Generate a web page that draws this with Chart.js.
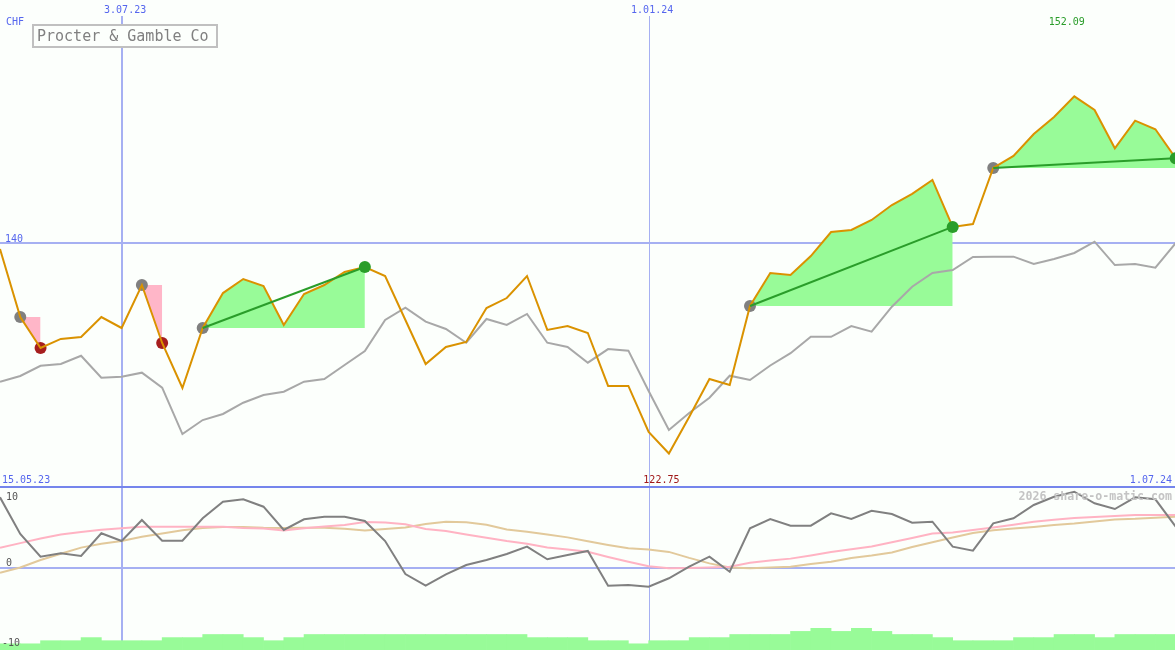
<!DOCTYPE html>
<html>
<head>
<meta charset="utf-8">
<script src="https://cdn.jsdelivr.net/npm/chart.js@4.4.1/dist/chart.umd.min.js"></script>
<style>
  html, body { margin: 0; padding: 0; background: #fcfffc; }
  canvas { display: block; }
</style>
</head>
<body>
<canvas id="chart" width="1175" height="650"></canvas>
<script>
// weekly closes, 59 weeks; index 6 = 3.07.23, index 32 = 1.01.24, index 58 = 1.07.24
const title = "Procter & Gamble Co";
const currency = "CHF";
const startLabel = "15.05.23";
const endLabel = "1.07.24";
const tickIndex = [6, 32];
const tickLabels = ["3.07.23", "1.01.24"];
const priceLevel = 140;
const oscLevels = [10, 0, -10];

const price = [
  139.55, 133.96, 131.42, 132.16, 132.32, 133.96, 133.06, 136.59, 131.83, 128.13,
  133.06, 135.93, 137.08, 136.51, 133.31, 135.85, 136.59, 137.66, 138.07, 137.33,
  133.72, 130.10, 131.50, 131.91, 134.70, 135.52, 137.33, 132.90, 133.22, 132.65,
  128.30, 128.30, 124.52, 122.75, 125.75, 128.87, 128.38, 134.87, 137.58, 137.41,
  138.97, 140.94, 141.11, 141.93, 143.16, 144.07, 145.22, 141.36, 141.60, 146.20,
  147.19, 148.99, 150.39, 152.09, 150.97, 147.82, 150.09, 149.38, 147.00,
];
const average = [
  128.65, 129.12, 129.96, 130.10, 130.78, 128.98, 129.06, 129.39, 128.16, 124.35,
  125.50, 126.00, 126.92, 127.56, 127.83, 128.65, 128.87, 130.02, 131.17, 133.72,
  134.73, 133.58, 132.98, 131.85, 133.80, 133.31, 134.21, 131.85, 131.50, 130.21,
  131.33, 131.20, 127.89, 124.68, 126.08, 127.33, 129.14, 128.79, 129.98, 130.99,
  132.34, 132.34, 133.22, 132.76, 134.81, 136.45, 137.58, 137.82, 138.89, 138.92,
  138.92, 138.32, 138.73, 139.22, 140.15, 138.23, 138.32, 138.01, 140.04,
];
const momentum = [
  10.71, 5.15, 1.71, 2.23, 1.82, 5.26, 4.09, 7.27, 4.14, 4.14,
  7.53, 10.05, 10.41, 9.29, 5.76, 7.38, 7.77, 7.77, 7.12, 4.09,
  -0.91, -2.68, -0.95, 0.45, 1.21, 2.12, 3.23, 1.32, 1.97, 2.58,
  -2.68, -2.58, -2.83, -1.56, 0.20, 1.71, -0.56, 6.02, 7.42, 6.41,
  6.41, 8.29, 7.42, 8.68, 8.18, 6.86, 7.02, 3.23, 2.62, 6.77,
  7.53, 9.55, 10.80, 11.56, 9.80, 8.94, 10.71, 10.41, 6.26,
];
const momentumFast = [
  3.08, 3.77, 4.47, 5.08, 5.47, 5.79, 6.02, 6.26, 6.26, 6.26,
  6.26, 6.26, 6.06, 5.98, 5.68, 6.03, 6.29, 6.52, 6.97, 6.89,
  6.62, 5.91, 5.61, 5.08, 4.58, 4.09, 3.68, 3.12, 2.80, 2.45,
  1.67, 0.95, 0.27, -0.05, 0.00, 0.09, 0.20, 0.80, 1.14, 1.42,
  1.91, 2.42, 2.83, 3.27, 3.89, 4.55, 5.24, 5.38, 5.76, 6.14,
  6.56, 7.02, 7.32, 7.58, 7.73, 7.88, 8.03, 8.03, 8.03,
];
const momentumSlow = [
  -0.71, 0.08, 1.21, 2.15, 3.09, 3.67, 4.09, 4.73, 5.23, 5.73,
  6.06, 6.21, 6.23, 6.08, 6.05, 6.11, 6.11, 5.94, 5.67, 5.91,
  6.15, 6.67, 7.00, 6.94, 6.56, 5.83, 5.50, 5.09, 4.64, 4.06,
  3.50, 3.00, 2.82, 2.44, 1.53, 0.70, 0.08, -0.05, 0.08, 0.18,
  0.59, 0.95, 1.53, 1.89, 2.36, 3.17, 3.89, 4.61, 5.29, 5.73,
  5.97, 6.23, 6.52, 6.73, 7.03, 7.35, 7.45, 7.62, 7.77,
];
// one bar per week, spanning week k to k+1
const volume = [
  2, 2, 3, 3, 4, 3, 3, 3, 4, 4,
  5, 5, 4, 3, 4, 5, 5, 5, 5, 5,
  5, 5, 5, 5, 5, 5, 4, 4, 4, 3,
  3, 2, 3, 3, 4, 4, 5, 5, 5, 6,
  7, 6, 7, 6, 5, 5, 4, 3, 3, 3,
  4, 4, 5, 5, 4, 5, 5, 5,
];
const signalFrom = [1, 7, 10, 37, 49];
const signalTo = [2, 8, 18, 47, 58];

const C = {
  bg: "#fcfffc",
  price: "#da9200",
  average: "#a8a8a8",
  momentum: "#808080",
  fast: "#ffb3c3",
  slow: "#e2c99b",
  gainFill: "#98fb98",
  lossFill: "#ffb6c8",
  trend: "#2a9d2a",
  startMark: "#808080",
  lossMark: "#a61e1e",
  gainMark: "#2a9d2a",
  grid: "#a6b0f2",
  sep: "#7585ec",
  label: "#5566ee",
  oscLabel: "#555555",
  box: "#c0c0c0",
  boxText: "#808080",
  mark: "#c4c4c4",
};

const W = 1175, H = 650;
const SEP = 487;             // bottom of price panel
const pxPerPrice = SEP / 40; // price panel shows 120..160
const zeroPx = 568, pxPerOsc = 6.6, pxPerVol = 3.1;

const pts = (arr, off = 0) => arr.map((v, i) => ({ x: i + off, y: v }));
const part = (from, to) => price.slice(from, to + 1).map((v, k) => ({ x: from + k, y: v }));

const datasets = [];

datasets.push({
  type: "bar", label: "Volume", data: pts(volume, 0.5), yAxisID: "yv",
  backgroundColor: C.gainFill, borderWidth: 0, barPercentage: 1, categoryPercentage: 1,
  grouped: false, order: 30,
});

signalFrom.forEach((from, n) => {
  const to = signalTo[n];
  const gain = price[to] >= price[from];
  datasets.push({
    type: "line", data: part(from, to), yAxisID: "y",
    fill: { value: price[from] }, backgroundColor: gain ? C.gainFill : C.lossFill,
    borderWidth: 0, pointRadius: 0, tension: 0, order: 20,
  });
  if (gain) {
    datasets.push({
      type: "line", data: [{ x: from, y: price[from] }, { x: to, y: price[to] }], yAxisID: "y",
      borderColor: C.trend, borderWidth: 2, pointRadius: 0, fill: false, order: 3,
    });
  }
});

const line = (data, axis, color, order) => ({
  type: "line", data, yAxisID: axis, borderColor: color, borderWidth: 2,
  pointRadius: 0, tension: 0, fill: false, order,
});

datasets.push(line(pts(momentumSlow), "yo", C.slow, 12));
datasets.push(line(pts(momentumFast), "yo", C.fast, 11));
datasets.push(line(pts(momentum), "yo", C.momentum, 10));
datasets.push(line(pts(average), "y", C.average, 8));

const marks = (idx, color, order) => ({
  type: "line", showLine: false, yAxisID: "y", order,
  data: idx.map((i) => ({ x: i, y: price[i] })),
  pointRadius: 6, pointBackgroundColor: color, pointBorderWidth: 0,
});
const lossEnds = signalTo.filter((t, n) => price[t] < price[signalFrom[n]]);
const gainEnds = signalTo.filter((t, n) => price[t] >= price[signalFrom[n]]);
datasets.push(marks(signalFrom, C.startMark, 6));
datasets.push(marks(lossEnds, C.lossMark, 6));
datasets.push(line(pts(price), "y", C.price, 4));
datasets.push(marks(gainEnds, C.gainMark, 1));

const font = (px, bold) => `${bold ? "bold " : ""}${px}px "DejaVu Sans Mono", monospace`;

const frame = {
  id: "frame",
  beforeDraw(chart) {
    const ctx = chart.ctx;
    ctx.save();
    ctx.fillStyle = C.bg;
    ctx.fillRect(0, 0, W, H);
    ctx.restore();
  },
  beforeDatasetsDraw(chart) {
    const { ctx, scales: { x, y, yo } } = chart;
    ctx.save();
    const hline = (py, color, w) => {
      ctx.strokeStyle = color; ctx.lineWidth = w;
      ctx.beginPath(); ctx.moveTo(0, py); ctx.lineTo(W, py); ctx.stroke();
    };
    tickIndex.forEach((i, k) => {
      const w = k === 0 ? 2 : 1;
      const px = Math.round(x.getPixelForValue(i)) + (w === 1 ? 0.5 : 0);
      ctx.strokeStyle = C.grid; ctx.lineWidth = w;
      ctx.beginPath(); ctx.moveTo(px, 16); ctx.lineTo(px, H); ctx.stroke();
    });
    hline(Math.round(y.getPixelForValue(priceLevel)), C.grid, 2);
    hline(Math.round(yo.getPixelForValue(0)), C.grid, 2);
    hline(Math.round(y.getPixelForValue(120)), C.sep, 2);
    ctx.restore();
  },
  afterDatasetsDraw(chart) {
    const { ctx, scales: { x, y, yo } } = chart;
    ctx.save();
    const text = (s, tx, ty, color, align = "left", f = font(10)) => {
      ctx.font = f; ctx.fillStyle = color; ctx.textAlign = align; ctx.textBaseline = "alphabetic";
      ctx.fillText(s, tx, ty);
    };
    const sepPx = y.getPixelForValue(120);

    tickIndex.forEach((i, k) => text(tickLabels[k], x.getPixelForValue(i) + 3.5, 13, C.label, "center"));
    text(currency, 6, 25, C.label);
    text(String(priceLevel), 5, y.getPixelForValue(priceLevel) - 1.5, C.label);

    const hi = Math.max(...price), lo = Math.min(...price);
    text(hi.toFixed(2), x.getPixelForValue(price.indexOf(hi)) - 7.5, 25, C.trend, "center");
    text(lo.toFixed(2), x.getPixelForValue(price.indexOf(lo)) - 7.5, sepPx - 4, "#a01818", "center");
    text(startLabel, 2, sepPx - 4, C.label);
    text(endLabel, W - 3, sepPx - 4, C.label, "right");

    oscLevels.forEach((v) => {
      const ty = Math.min(yo.getPixelForValue(v) - 2.5, H - 4);
      text(String(v), v < 0 ? 2 : 6, v < 0 ? H - 4 : ty, C.oscLabel);
    });

    text("2026 share-o-matic.com", W - 3, 500, C.mark, "right", font(11.6, true));

    // title box
    ctx.fillStyle = C.bg;
    ctx.fillRect(33, 25, 184, 22);
    ctx.strokeStyle = C.box; ctx.lineWidth = 2;
    ctx.strokeRect(33, 25, 184, 22);
    text(title, 37, 41, C.boxText, "left", font(15));
    ctx.restore();
  },
};

new Chart(document.getElementById("chart"), {
  type: "line",
  data: { datasets },
  plugins: [frame],
  options: {
    responsive: false,
    animation: false,
    events: [],
    layout: { padding: 0, autoPadding: false },
    plugins: { legend: { display: false }, tooltip: { enabled: false }, title: { display: false } },
    scales: {
      x: { type: "linear", min: 0, max: W / 20.27, offset: false, display: false },
      y: { type: "linear", min: 160 - H / pxPerPrice, max: 160, display: false },
      yo: { type: "linear", min: (zeroPx - H) / pxPerOsc, max: zeroPx / pxPerOsc, display: false },
      yv: { type: "linear", min: 0, max: H / pxPerVol, display: false },
    },
  },
});
</script>
</body>
</html>
